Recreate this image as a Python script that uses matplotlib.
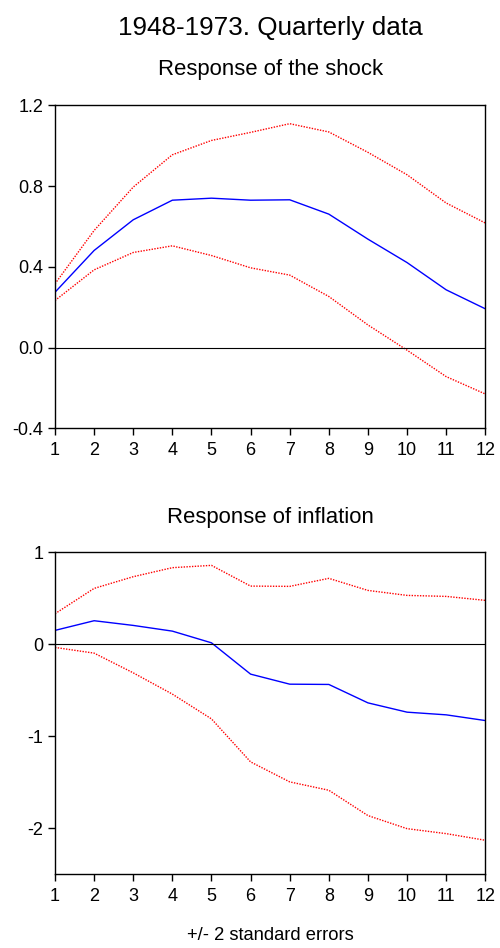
import numpy as np
import matplotlib
matplotlib.use("Agg")
import matplotlib.pyplot as plt

plt.rcParams['font.family'] = ['Liberation Sans', 'DejaVu Sans']

periods = list(range(1, 13))

# Response of the shock
shock_resp = [0.274, 0.481, 0.633, 0.730, 0.740, 0.730, 0.732, 0.661, 0.537, 0.421, 0.286, 0.192]
shock_upper = [0.316, 0.580, 0.795, 0.955, 1.026, 1.066, 1.109, 1.068, 0.967, 0.856, 0.716, 0.617]
shock_lower = [0.233, 0.385, 0.471, 0.504, 0.456, 0.395, 0.359, 0.253, 0.112, -0.013, -0.144, -0.230]

# Response of inflation
infl_resp = [0.149, 0.254, 0.203, 0.141, 0.014, -0.326, -0.435, -0.438, -0.638, -0.739, -0.768, -0.830]
infl_upper = [0.330, 0.605, 0.732, 0.830, 0.855, 0.630, 0.627, 0.714, 0.583, 0.529, 0.518, 0.475]
infl_lower = [-0.036, -0.098, -0.312, -0.543, -0.812, -1.279, -1.496, -1.587, -1.862, -2.004, -2.058, -2.130]

shock_ticks = [-0.4, 0.0, 0.4, 0.8, 1.2]
infl_ticks = [-2, -1, 0, 1]

fig = plt.figure(figsize=(5.0, 9.48), dpi=100)
ax1 = fig.add_axes([0.11, 0.5482, 0.8606, 0.3407])
ax2 = fig.add_axes([0.11, 0.0777, 0.8606, 0.3400])


def panel(ax, resp, up, lo, ticks, ylim, fmt):
    ax.plot(periods, up, color='red', linestyle=(0, (1, 1)), linewidth=1.0)
    ax.plot(periods, lo, color='red', linestyle=(0, (1, 1)), linewidth=1.0)
    ax.plot(periods, resp, color='blue', linewidth=1.0)
    ax.axhline(0, color='black', linewidth=0.8)
    ax.set_xlim(1, 12)
    ax.set_ylim(*ylim)
    ax.set_xticks(periods)
    ax.set_yticks(ticks)
    ax.set_yticklabels([fmt.format(t) for t in ticks])
    ax.tick_params(direction='out', length=5, width=1, labelsize=13)
    ax.tick_params(axis='x', pad=5)
    ax.tick_params(axis='y', pad=3.5)
    for s in ax.spines.values():
        s.set_linewidth(1.0)


panel(ax1, shock_resp, shock_upper, shock_lower, shock_ticks, (-0.4, 1.2), "{:.1f}")
panel(ax2, infl_resp, infl_upper, infl_lower, infl_ticks, (-2.5, 1.0), "{:d}")

# titles sit centred over the plot area, not the whole figure
cx = 0.11 + 0.8606 / 2
fig.text(cx, 1 - 28 / 948, "1948-1973. Quarterly data", ha='center', va='center', fontsize=18.8)
fig.text(cx, 1 - 70 / 948, "Response of the shock", ha='center', va='center', fontsize=15.9)
fig.text(cx, 1 - 518 / 948, "Response of inflation", ha='center', va='center', fontsize=15.9)
fig.text(cx, 1 - 936 / 948, "+/- 2 standard errors", ha='center', va='center', fontsize=13.2)

fig.savefig("out.png", dpi=100)
